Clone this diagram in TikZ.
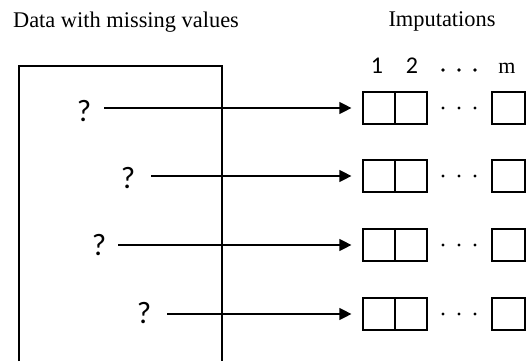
\documentclass[tikz,border=0pt]{standalone}
\usepackage{fontspec}
\setmainfont{Liberation Serif}
\newfontfamily\calfont{Carlito}
\usetikzlibrary{arrows.meta}
\tikzset{
  ln/.style={line width=1.2pt},
  cell/.style={draw, line width=1.2pt, minimum width=32pt, minimum height=32pt, inner sep=0pt},
  lastcell/.style={cell, minimum width=33pt},
  qmark/.style={inner sep=0pt, font=\calfont\fontsize{31}{31}\selectfont},
  title/.style={anchor=base, inner sep=0pt, font=\fontsize{22.4}{24}\selectfont},
  digit/.style={anchor=base, inner sep=0pt, font=\calfont\fontsize{24}{24}\selectfont},
  arr/.style={line width=1.2pt, -{Triangle[length=12pt,width=12pt]}, shorten >=11pt},
  dotmark/.style={fill=black, draw=none}
}
\begin{document}
\begin{tikzpicture}[x=1pt,y=-1pt]
\useasboundingbox (0,0) rectangle (526,361);
% titles
\node[title] (t1) at (126,28) {Data with missing values};
\node[title] (t2) at (442,27) {Imputations};
% header
\node[digit] (h1) at (377,73) {1};
\node[digit] (h2) at (412,73) {2};
\node[title, font=\fontsize{22}{22}\selectfont] (hm) at (507,73) {m};
\foreach \x in {443,459,475} \fill[dotmark] (\x,70) circle (1.8pt);
% big box
\draw[ln] (19,361) -- (19,66) -- (222,66) -- (222,361);
% rows
\foreach \i/\y/\qx/\qy/\sx in {1/108/84/111/104, 2/176/128/178/151, 3/245/99/245/118, 4/314/144/313/167} {
  \node[qmark] (q\i) at (\qx,\qy) {?};
  \coordinate (s\i) at (\sx,\y);
  \node[cell] (a\i) at (379,\y) {};
  \node[cell] (b\i) at (411,\y) {};
  \node[lastcell] (c\i) at (508.5,\y) {};
  \foreach \x in {443,459,475} \fill[dotmark] (\x,\y) circle (1.6pt);
  \draw[arr] (s\i) -- (a\i);
}
\end{tikzpicture}
\end{document}
